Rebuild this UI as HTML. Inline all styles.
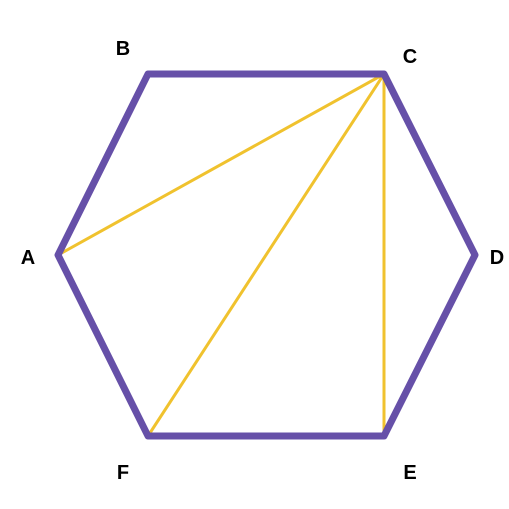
<!DOCTYPE html>
<html>
<head>
<meta charset="utf-8">
<style>
html,body{margin:0;padding:0;background:#fff;}
svg{display:block;}
text{font-family:"Liberation Sans",Arial,sans-serif;font-weight:bold;font-size:20px;fill:#000;}
</style>
</head>
<body>
<svg width="509" height="509" viewBox="0 0 509 509">
  <g stroke="#f0c22e" stroke-width="3" stroke-linecap="round">
    <line x1="384" y1="74" x2="58" y2="255"/>
    <line x1="384" y1="74" x2="148" y2="436"/>
    <line x1="384" y1="74" x2="384" y2="436"/>
  </g>
  <polygon points="58,255 148,74 384,74 475,255 384,436 148,436" fill="none" stroke="#6650a8" stroke-width="7" stroke-linejoin="round"/>
  <text x="28" y="264" text-anchor="middle">A</text>
  <text x="123" y="55" text-anchor="middle">B</text>
  <text x="410" y="63" text-anchor="middle">C</text>
  <text x="497" y="264" text-anchor="middle">D</text>
  <text x="410" y="479" text-anchor="middle">E</text>
  <text x="123" y="479" text-anchor="middle">F</text>
</svg>
</body>
</html>
